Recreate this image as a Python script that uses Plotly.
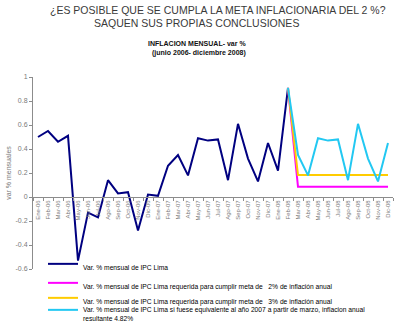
import plotly.graph_objects as go

# ---------------- data ----------------
months = ["Ene-06", "Feb-06", "Mar-06", "Abr-06", "May-06", "Jun-06", "Jul-06", "Ago-06",
          "Sep-06", "Oct-06", "Nov-06", "Dic-06",
          "Ene-07", "Feb-07", "Mar-07", "Abr-07", "May-07", "Jun-07", "Jul-07", "Ago-07",
          "Sep-07", "Oct-07", "Nov-07", "Dic-07",
          "Ene-08", "Feb-08", "Mar-08", "Abr-08", "May-08", "Jun-08", "Jul-08", "Ago-08",
          "Sep-08", "Oct-08", "Nov-08", "Dic-08"]

ipc_lima = [0.50, 0.55, 0.46, 0.51, -0.53, -0.13, -0.17, 0.14, 0.03, 0.04, -0.28, 0.02,
            0.01, 0.26, 0.35, 0.18, 0.49, 0.47, 0.48, 0.14, 0.61, 0.32, 0.13, 0.45,
            0.22, 0.91]

proj_months = ["Feb-08", "Mar-08", "Abr-08", "May-08", "Jun-08", "Jul-08", "Ago-08",
               "Sep-08", "Oct-08", "Nov-08", "Dic-08"]
meta_2 = [0.91, 0.085, 0.085, 0.085, 0.085, 0.085, 0.085, 0.085, 0.085, 0.085, 0.085]
meta_3 = [0.91, 0.183, 0.183, 0.183, 0.183, 0.183, 0.183, 0.183, 0.183, 0.183, 0.183]
como_2007 = [0.91, 0.35, 0.18, 0.49, 0.47, 0.48, 0.14, 0.61, 0.32, 0.13, 0.45]

y_tick_vals = [-0.6, -0.4, -0.2, 0, 0.2, 0.4, 0.6, 0.8, 1]
y_tick_text = ["-0.6", "-0.4", "-0.2", "0", "0.2", "0.4", "0.6", "0.8", "1"]

names = [
    "Var. % mensual de IPC Lima",
    "Var. % mensual de IPC Lima requerida para cumplir meta de \u00a0\u00a02% de inflación anual",
    "Var. % mensual de IPC Lima requerida para cumplir meta de \u00a0\u00a03% de inflación anual",
    "Var. % mensual de IPC Lima si fuese equivalente al año 2007 a partir de marzo, inflacion anual<br>resultante 4.82%",
]

# ---------------- layout helpers (pixel -> paper) ----------------
W, H = 400, 328
L, R, T, B = 33, 393, 77, 269


def px(x):
    return (x - L) / (R - L)


def py(y):
    return (B - y) / (B - T)


FONT = "Liberation Sans, Arial, sans-serif"
GRAY = "#7a7a7a"
LEG_FONT = dict(size=6.7, color="#000")

fig = go.Figure()
fig.add_trace(go.Scatter(x=months[:len(ipc_lima)], y=ipc_lima, mode="lines", name=names[0],
                         line=dict(color="#000080", width=2), legend="legend"))
fig.add_trace(go.Scatter(x=proj_months, y=meta_2, mode="lines", name=names[1],
                         line=dict(color="#FF00FF", width=2), legend="legend"))
fig.add_trace(go.Scatter(x=proj_months, y=meta_3, mode="lines", name=names[2],
                         line=dict(color="#FFCC00", width=2), legend="legend2"))
fig.add_trace(go.Scatter(x=proj_months, y=como_2007, mode="lines", name=names[3],
                         line=dict(color="#22C8F2", width=2), legend="legend3"))


def leg(top_px):
    return dict(x=px(43), y=py(top_px), xanchor="left", yanchor="top",
                bgcolor="rgba(0,0,0,0)", font=LEG_FONT, traceorder="normal",
                itemwidth=30, borderwidth=0, valign="top")


fig.update_layout(
    width=W, height=H,
    margin=dict(l=L, r=W - R, t=T, b=H - B, pad=0, autoexpand=False),
    paper_bgcolor="white", plot_bgcolor="white",
    font=dict(family=FONT, color="#222"),
    showlegend=True,
    legend=leg(253),
    legend2=leg(287),
    legend3=leg(299),
    xaxis=dict(type="category", categoryorder="array", categoryarray=months,
               range=[-0.5, len(months) - 0.5], anchor="free", position=py(197),
               showline=True, linecolor="#8c8c8c", linewidth=1,
               ticks="outside", tickson="boundaries", ticklen=3, tickcolor="#8c8c8c",
               tickangle=-90, tickfont=dict(size=6, color=GRAY), showgrid=False,
               zeroline=False, automargin=False),
    yaxis=dict(range=[-0.6, 1.0], tickvals=y_tick_vals, ticktext=y_tick_text,
               showline=True, linecolor="#8c8c8c", linewidth=1, ticks="outside",
               ticklen=3, tickcolor="#8c8c8c", tickfont=dict(size=7, color=GRAY),
               showgrid=False, zeroline=False, automargin=False,
               title=dict(text="var % mensuales", font=dict(size=7, color=GRAY), standoff=3)),
    annotations=[
        dict(text="¿ES POSIBLE QUE SE CUMPLA LA META INFLACIONARIA DEL 2 %?",
             x=px(218), y=py(10), xref="paper", yref="paper", showarrow=False,
             xanchor="center", yanchor="middle", font=dict(size=10.5, color="#3a3a3a")),
        dict(text="SAQUEN SUS PROPIAS CONCLUSIONES",
             x=px(196.5), y=py(23), xref="paper", yref="paper", showarrow=False,
             xanchor="center", yanchor="middle", font=dict(size=10.5, color="#3a3a3a")),
        dict(text="<b>INFLACION MENSUAL- var %</b>",
             x=px(196.5), y=py(43), xref="paper", yref="paper", showarrow=False,
             xanchor="center", yanchor="middle", font=dict(size=7, color="#111")),
        dict(text="<b>(junio 2006- diciembre 2008)</b>",
             x=px(199), y=py(53), xref="paper", yref="paper", showarrow=False,
             xanchor="center", yanchor="middle", font=dict(size=7, color="#111")),
    ],
)

fig.write_html("out.html")
